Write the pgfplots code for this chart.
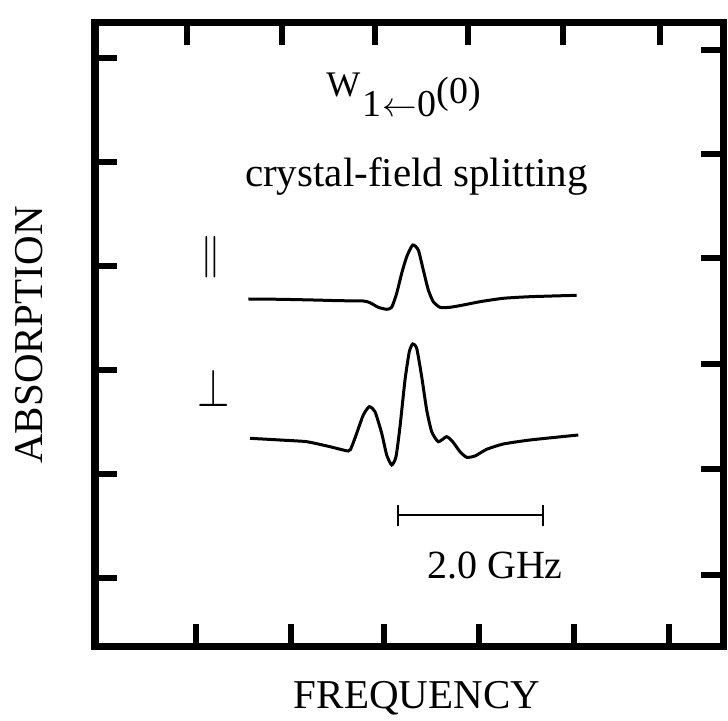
\documentclass[border=0pt]{standalone}
\usepackage{fontspec}
\setmainfont{Liberation Serif}
\usepackage{graphicx}
\usepackage{pgfplots}
\pgfplotsset{compat=1.18}

\pgfplotstableread{
x y
248.3 299.0
280.0 299.3
313.3 300.0
340.0 300.7
363.3 301.0
370.0 302.7
378.3 307.3
386.7 309.3
391.7 307.3
396.7 293.3
401.7 273.3
406.7 256.7
412.7 245.0
418.3 250.0
423.3 270.0
428.3 290.0
433.3 301.7
440.0 307.3
450.0 307.3
463.3 305.0
480.0 301.7
503.3 298.3
530.0 296.7
576.7 295.3
}\parallel

\pgfplotstableread{
x y
250.0 438.3
280.0 440.0
306.7 441.7
330.0 446.7
348.3 451.0
351.7 446.7
356.7 433.3
363.3 415.0
369.3 406.7
375.0 411.7
381.7 433.3
386.7 455.0
391.7 465.0
396.0 456.7
400.0 426.7
405.0 380.0
409.3 351.7
412.7 344.0
416.7 348.3
421.7 376.7
426.7 410.0
431.7 431.7
438.3 441.7
446.7 436.7
452.7 441.7
460.0 451.7
466.7 457.3
475.0 456.0
486.7 449.3
503.3 444.0
530.0 440.0
578.3 435.0
}\perpend

\begin{document}
\begin{tikzpicture}
\pgfplotsset{
  common/.style={
    scale only axis, width=314pt, height=311.5pt,
    xmin=95, xmax=723, ymin=23, ymax=646, y dir=reverse,
    axis line style={line width=3.5pt, line join=miter},
    tick align=inside, major tick length=11pt,
    tick style={line width=3pt, black},
    xticklabels={}, yticklabels={},
  }
}
\begin{axis}[common, clip=false,
  xtick={196,291,384,479,574,669}, xtick pos=left,
  ytick={58,162,266,370,474,578}, ytick pos=left]
  \addplot[line width=1.5pt, smooth, tension=0.35] table[x=x,y=y] {\parallel};
  \addplot[line width=1.5pt, smooth, tension=0.35] table[x=x,y=y] {\perpend};
  \draw[line width=1.4pt] (axis cs:398,515) -- (axis cs:543,515);
  \draw[line width=1.4pt] (axis cs:398,505) -- (axis cs:398,526);
  \draw[line width=1.4pt] (axis cs:543,505) -- (axis cs:543,526);
  \node[anchor=base west, inner sep=0pt] at (axis cs:326,117)
    {\fontsize{18}{18}\selectfont\raisebox{10pt}{W}\hspace{1pt}\fontsize{19}{19}\selectfont 1\hspace{0.5pt}$\leftarrow$\hspace{0.5pt}0\raisebox{6.5pt}{(0)}};
  \node[anchor=base, inner sep=0pt] at (axis cs:416.5,187) {\fontsize{20.5}{20.5}\selectfont crystal-field splitting};
  \node[inner sep=0pt] at (axis cs:211,257) {\fontsize{20}{20}\selectfont $\|$};
  \node[inner sep=0pt] at (axis cs:214,388) {\fontsize{20}{20}\selectfont \scalebox{1}[1.3]{$\perp$}};
  \node[anchor=base, inner sep=0pt] at (axis cs:495,578) {\fontsize{20}{20}\selectfont 2.0 GHz};
  \node[anchor=base, inner sep=0pt] at (axis cs:417,708) {\fontsize{20.5}{20.5}\selectfont FREQUENCY};
  \node[anchor=base, inner sep=0pt, rotate=90] at (axis cs:43,335) {\fontsize{20.5}{20.5}\selectfont ABSORPTION};
  \coordinate (BL) at (axis cs:0,721);
  \coordinate (TR) at (axis cs:728,0);
\end{axis}
\begin{axis}[common,
  xtick={187,282,375,468,563,660}, xtick pos=right,
  ytick={50,154,258,364,469,575}, ytick pos=right]
\end{axis}
\pgfresetboundingbox
\path[use as bounding box] (BL) rectangle (TR);
\end{tikzpicture}
\end{document}
